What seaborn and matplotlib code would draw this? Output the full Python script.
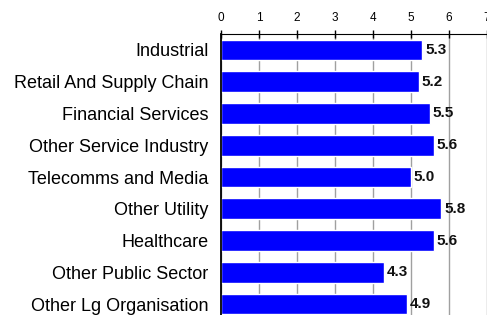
import seaborn as sns
import matplotlib.pyplot as plt
import pandas as pd

categories = ["Industrial", "Retail And Supply Chain", "Financial Services",
              "Other Service Industry", "Telecomms and Media", "Other Utility",
              "Healthcare", "Other Public Sector", "Other Lg Organisation"]
scores = [5.3, 5.2, 5.5, 5.6, 5.0, 5.8, 5.6, 4.3, 4.9]
ticks = [0, 1, 2, 3, 4, 5, 6, 7]

df = pd.DataFrame({"sector": categories, "score": scores})

sns.set_style("white")
plt.rcParams["font.family"] = ["Liberation Sans", "DejaVu Sans"]

fig = plt.figure(figsize=(4.87, 3.15), dpi=100)
ax = fig.add_axes([221 / 487, -5 / 315, 266 / 487, 286 / 315])

sns.barplot(data=df, x="score", y="sector", color="#0000FF", saturation=1,
            width=0.65, ax=ax, zorder=2)

ax.set_xlim(0, 7)
ax.set_ylim(len(categories) - 0.5, -0.5)
ax.set_xticks(ticks)
ax.xaxis.tick_top()
ax.tick_params(axis="x", direction="inout", length=6, width=1, labelsize=8.5, pad=4,
               color="black", labelcolor="black")
ax.set_yticks([i - 0.5 for i in range(len(categories))], minor=True)
ax.tick_params(axis="y", which="major", length=0, labelsize=13, pad=9, labelcolor="black")
ax.tick_params(axis="y", which="minor", direction="out", length=4, width=0.8, color="black")
ax.grid(axis="x", color="#a0a0a0", linewidth=1, zorder=0)
ax.set_axisbelow(True)
for s in ["right", "bottom"]:
    ax.spines[s].set_visible(False)
ax.spines["top"].set_color("black")
ax.spines["left"].set_color("black")
ax.spines["left"].set_linewidth(1.3)
ax.set_xlabel("")
ax.set_ylabel("")

for i, v in enumerate(scores):
    ax.text(v + 0.07, i, f"{v:.1f}", va="center", ha="left", fontsize=11,
            fontweight="bold", color="#111111")

fig.savefig("out.png", dpi=100)
